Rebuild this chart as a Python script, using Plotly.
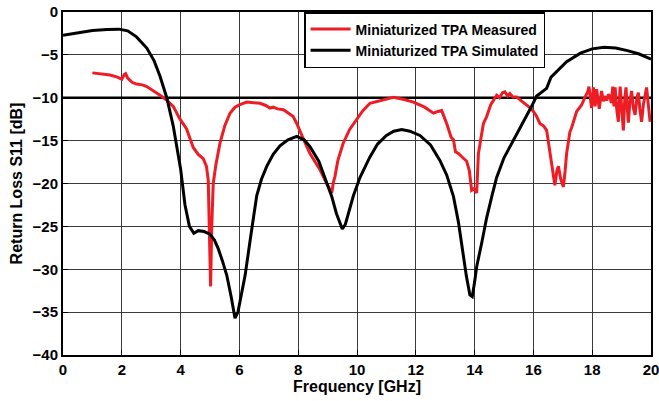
import plotly.graph_objects as go

# Simulated return loss of the miniaturized TPA
freq_sim = [0, 0.5, 1.0, 1.5, 1.9, 2.2, 2.5, 2.85, 3.1, 3.3, 3.53, 3.75, 4.0, 4.15, 4.3,
            4.45, 4.6, 4.8, 5.0, 5.15, 5.28, 5.42, 5.57, 5.72, 5.85, 5.95, 6.05, 6.19,
            6.4, 6.59, 6.75, 6.93, 7.15, 7.38, 7.65, 7.95, 8.2, 8.4, 8.7, 8.97, 9.14,
            9.3, 9.5, 9.6, 9.7, 9.88, 10.1, 10.44, 10.7, 11.0, 11.25, 11.52, 11.8,
            12.14, 12.5, 12.82, 13.05, 13.28, 13.45, 13.6, 13.72, 13.84, 13.92, 14.0,
            14.07, 14.25, 14.41, 14.6, 14.75, 15.0, 15.32, 15.71, 15.94, 16.11, 16.45,
            16.6, 17.13, 17.6, 18.0, 18.4, 18.8, 19.2, 19.6, 20.0]
s11_sim = [-2.7, -2.4, -2.15, -2.05, -2.0, -2.2, -2.9, -4.2, -5.7, -7.5, -10.0, -13.3,
           -18.3, -22.5, -25.0, -25.8, -25.5, -25.6, -25.9, -26.6, -27.6, -29.0, -30.7,
           -33.2, -35.7, -35.0, -33.2, -30.8, -25.8, -21.4, -19.5, -18.0, -16.6, -15.6,
           -14.9, -14.5, -14.9, -15.7, -17.4, -19.8, -21.5, -23.5, -25.3, -24.8, -23.6,
           -21.4, -19.3, -16.9, -15.4, -14.4, -13.9, -13.7, -13.9, -14.4, -15.5, -17.3,
           -19.0, -21.5, -24.5, -28.0, -30.8, -33.0, -33.2, -31.5, -29.7, -26.8, -24.0,
           -21.3, -19.3, -17.0, -15.0, -12.6, -11.0, -9.8, -8.9, -7.6, -5.8, -4.8,
           -4.3, -4.1, -4.2, -4.5, -4.9, -5.5]

# Measured return loss of the miniaturized TPA
freq_meas = [1.0, 1.3, 1.6, 1.85, 2.0, 2.08, 2.13, 2.2, 2.35, 2.5, 2.7, 2.85, 3.05, 3.3,
             3.5, 3.75, 3.98, 4.2, 4.43, 4.6, 4.77, 4.88, 4.94, 4.98, 5.02, 5.06, 5.11,
             5.2, 5.34, 5.5, 5.68, 5.85, 6.02, 6.25, 6.5, 6.7, 6.9, 7.04, 7.15, 7.3, 7.5,
             7.7, 7.83, 7.95, 8.06, 8.2, 8.4, 8.55, 8.74, 8.97, 9.14, 9.2, 9.25, 9.35,
             9.53, 9.75, 9.99, 10.2, 10.44, 10.8, 11.24, 11.6, 11.92, 12.3, 12.6, 12.75,
             12.88, 12.96, 13.05, 13.2, 13.28, 13.35, 13.45, 13.6, 13.73, 13.82, 13.9,
             13.98, 14.07, 14.13, 14.2, 14.3, 14.41, 14.55, 14.75, 14.85, 14.95, 15.03,
             15.12, 15.2, 15.3, 15.43, 15.6, 15.77, 15.9, 16.0, 16.1, 16.22, 16.35,
             16.45, 16.56, 16.65, 16.73, 16.8, 16.85, 16.93, 17.02, 17.08, 17.13, 17.24,
             17.3, 17.47, 17.64, 17.76, 17.85, 17.89, 17.94, 17.98, 18.04, 18.1, 18.15,
             18.2, 18.24, 18.32, 18.38, 18.44, 18.5, 18.55, 18.61, 18.65, 18.7, 18.74,
             18.78, 18.84, 18.89, 18.95, 19.0, 19.06, 19.11, 19.15, 19.2, 19.23, 19.28,
             19.34, 19.4, 19.46, 19.52, 19.57, 19.62, 19.68, 19.74, 19.8, 19.85, 19.9,
             19.97]
s11_meas = [-7.1, -7.2, -7.35, -7.6, -7.85, -7.3, -7.2, -7.7, -8.2, -8.4, -8.5, -8.7,
            -9.1, -9.7, -10.2, -11.0, -12.5, -13.6, -15.8, -16.6, -17.1, -18.0, -19.6,
            -25.0, -32.0, -25.0, -20.0, -17.8, -15.3, -13.3, -11.8, -11.1, -10.8, -10.5,
            -10.55, -10.65, -10.9, -11.2, -11.1, -11.3, -11.4, -11.9, -12.2, -13.0,
            -13.8, -15.0, -16.5, -17.3, -18.4, -20.0, -21.1, -19.8, -19.2, -17.3, -15.3,
            -13.7, -12.6, -11.5, -10.65, -10.35, -9.95, -10.2, -10.5, -11.1, -11.8,
            -11.6, -11.5, -12.2, -13.0, -14.6, -14.9, -16.3, -16.5, -17.0, -17.4, -18.5,
            -20.8, -20.6, -21.1, -16.5, -15.2, -13.0, -12.2, -10.8, -9.7, -10.0, -9.4,
            -9.3, -9.8, -9.5, -9.9, -9.9, -10.4, -10.85, -11.2, -11.6, -12.1, -13.0,
            -13.3, -13.8, -16.1, -18.0, -20.2, -18.5, -18.0, -19.5, -20.4, -18.5, -16.5,
            -14.0, -13.5, -11.6, -10.85, -9.9, -9.3, -8.7, -10.5, -11.2, -8.8, -11.0,
            -9.0, -10.2, -11.3, -9.2, -10.4, -10.0, -10.3, -9.6, -9.9, -10.6, -8.7,
            -11.0, -8.8, -11.5, -12.8, -8.7, -11.0, -13.8, -10.0, -8.8, -11.5, -12.9,
            -10.5, -9.2, -11.2, -12.0, -10.0, -9.4, -11.3, -12.8, -10.8, -9.8, -8.8,
            -10.5, -12.8]

# -10 dB matching criterion across the whole band
threshold_db = -10
band = [0, 20]

x_ticks = list(range(0, 21, 2))
y_ticks = list(range(-40, 1, 5))

font_family = "Liberation Sans, Arial, sans-serif"
title_font = dict(family=font_family, size=16, color="black", weight="bold")

fig = go.Figure()
fig.add_trace(go.Scatter(
    x=band, y=[threshold_db, threshold_db], mode="lines", showlegend=False,
    hoverinfo="skip", line=dict(color="black", width=2.5),
))
fig.add_trace(go.Scatter(
    x=freq_meas, y=s11_meas, mode="lines", name="Miniaturized TPA Measured",
    line=dict(color="#ee1c25", width=3),
))
fig.add_trace(go.Scatter(
    x=freq_sim, y=s11_sim, mode="lines", name="Miniaturized TPA Simulated",
    line=dict(color="black", width=3),
))

axis_common = dict(
    showgrid=True, gridcolor="#3a3a3a", gridwidth=1,
    showline=True, linecolor="black", linewidth=2, mirror=True,
    ticks="inside", ticklen=5, tickcolor="black", tickwidth=1,
    zeroline=False, automargin=False, ticklabeloverflow="allow",
    tickfont=dict(family=font_family, size=15, color="black", weight="bold"),
)

fig.update_layout(
    width=659, height=401,
    margin=dict(l=63, r=8, t=12, b=46),
    paper_bgcolor="white", plot_bgcolor="white",
    font=dict(family=font_family, color="black"),
    xaxis=dict(
        range=band, tickvals=x_ticks,
        title=dict(text="Frequency [GHz]", standoff=4, font=title_font),
        **axis_common,
    ),
    yaxis=dict(
        range=[-40, 0], tickvals=y_ticks,
        title=dict(text="Return Loss S11 [dB]", standoff=6, font=title_font),
        **axis_common,
    ),
    legend=dict(
        x=0.41, y=1.0, xanchor="left", yanchor="top",
        bgcolor="white", bordercolor="black", borderwidth=1.5,
        font=dict(family=font_family, size=14, color="black", weight="bold"),
        tracegroupgap=0, itemwidth=40,
    ),
    showlegend=True,
)

fig.write_html("out.html")
